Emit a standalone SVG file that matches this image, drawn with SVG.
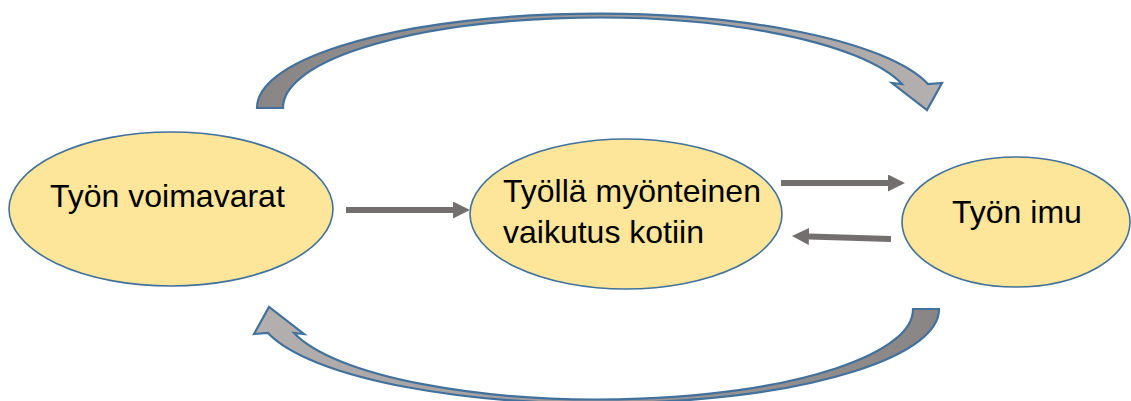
<svg xmlns="http://www.w3.org/2000/svg" width="1131" height="401" viewBox="0 0 1131 401">
  <style>
    .node ellipse { fill: #fde699; stroke: #41719c; stroke-width: 1.6; }
    .node text { font-family: "Liberation Sans", Arial, sans-serif; font-size: 32px; fill: #000; }
    .conn { stroke: #736f6f; stroke-width: 6; fill: none; }
    .curved { stroke: #41719c; stroke-width: 2.2; stroke-linejoin: miter; }
  </style>
  <defs>
    <marker id="head" markerUnits="userSpaceOnUse" markerWidth="17" markerHeight="17" refX="0" refY="8.5" orient="auto">
      <path d="M0,0 L17,8.5 L0,17 Z" fill="#736f6f"/>
    </marker>
    <linearGradient id="gTop" gradientUnits="userSpaceOnUse" x1="257" y1="0" x2="942" y2="0">
      <stop offset="0" stop-color="#8a8585"/>
      <stop offset="1" stop-color="#b5b0b0"/>
    </linearGradient>
    <path id="curvedArrow" d="M257,108 A341,94 0 0 1 928,84 L942,83 L927,110 L892,83 L902,84 A315,90 0 0 0 283,108 Z"/>
  </defs>

  <g id="connectors">
    <use href="#curvedArrow" class="curved" fill="url(#gTop)"/>
    <use href="#curvedArrow" class="curved" fill="url(#gTop)" transform="rotate(180 598 208.5)"/>
    <path class="conn" d="M346,210 L453,210" marker-end="url(#head)"/>
    <path class="conn" d="M781,183 L888,183" marker-end="url(#head)"/>
    <path class="conn" d="M891,239 L809,236.5" marker-end="url(#head)"/>
  </g>

  <g id="node-voimavarat" class="node">
    <ellipse cx="171" cy="209" rx="162" ry="77"/>
    <text x="50" y="207">Työn voimavarat</text>
  </g>

  <g id="node-vaikutus" class="node">
    <ellipse cx="626" cy="214" rx="156" ry="75"/>
    <text x="503" y="202">Työllä myönteinen</text>
    <text x="503" y="243">vaikutus kotiin</text>
  </g>

  <g id="node-imu" class="node">
    <ellipse cx="1016" cy="222" rx="114" ry="65"/>
    <text x="952" y="223">Työn imu</text>
  </g>
</svg>
